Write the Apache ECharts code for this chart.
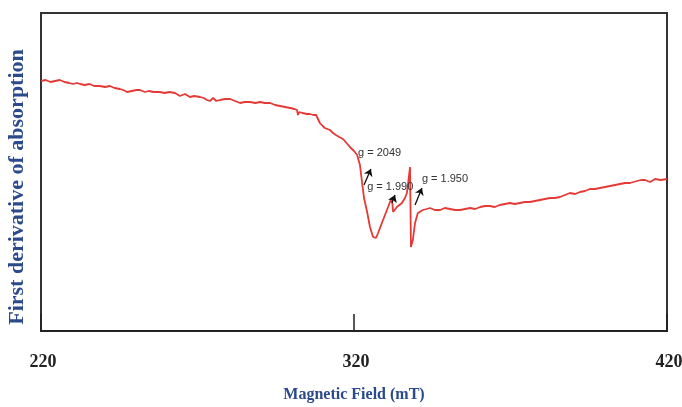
<!DOCTYPE html>
<html>
<head>
<meta charset="utf-8">
<script src="https://cdn.jsdelivr.net/npm/echarts@6/dist/echarts.min.js"></script>
<style>
  html, body { margin: 0; padding: 0; background: #fff; }
  #chart { width: 682px; height: 407px; }
</style>
</head>
<body>
<div id="chart"></div>
<script>
// magnetic field (mT)
var field = [
  220.0, 221.5, 223.0, 224.5, 226.0, 227.5, 229.0, 230.2, 231.5, 232.5,
  234.0, 235.5, 237.0, 238.8, 240.5, 242.0, 243.5, 245.2, 246.3, 247.5,
  249.0, 250.5, 251.6, 253.2, 254.5, 256.0, 258.0, 259.5, 261.0, 262.8,
  264.4, 265.2, 266.0, 267.6, 269.0, 270.8, 272.0, 273.0, 274.0, 275.0,
  276.0, 277.2, 278.8, 280.4, 282.0, 283.6, 285.0, 286.8, 288.5, 290.0,
  291.5, 293.2, 294.8, 296.4, 298.0, 299.6, 301.0, 301.8, 302.1, 302.5,
  303.5, 305.0, 305.9, 307.0, 307.9, 309.1, 310.0, 310.7, 311.5, 312.3,
  313.3, 314.2, 315.3, 316.5, 317.6, 318.7, 320.0, 321.0, 321.9, 322.6,
  323.2, 324.2, 325.1, 326.1, 327.0, 327.7, 328.9, 329.9, 330.9, 331.5,
  332.1, 332.5, 333.7, 335.3, 336.3, 336.9, 337.3, 337.9, 338.2, 338.8,
  339.5, 340.4, 342.0, 343.2, 344.3, 345.8, 347.5, 349.0, 350.7, 352.3,
  353.9, 355.5, 357.1, 358.7, 360.3, 361.8, 363.4, 365.0, 366.6, 368.2,
  369.8, 371.4, 373.0, 374.6, 376.2, 377.8, 379.4, 381.0, 382.6, 384.2,
  385.8, 387.4, 389.0, 390.6, 392.2, 393.8, 395.4, 397.0, 398.6, 400.2,
  401.8, 403.4, 405.0, 406.6, 408.2, 409.3, 410.4, 411.7, 413.0, 414.6,
  416.2, 418.0, 420.0
];
// first derivative signal (arb. units)
var signal = [
  250, 251, 249, 250, 251, 249, 248, 247, 248, 247,
  246, 247, 245, 245, 244, 245, 243, 242, 241, 239,
  240, 241, 241, 239, 240, 239, 239, 238, 239, 238,
  235, 236, 237, 234, 235, 234, 233, 231, 230, 233,
  230, 231, 232, 232, 230, 228, 229, 229, 228, 229,
  228, 228, 226, 225, 224, 223, 222, 221, 216, 219,
  218, 217, 217, 216, 216, 208, 205, 203, 202, 201,
  198, 196, 194, 192, 188, 184, 180, 176, 166, 148,
  133, 119, 104, 94, 93, 98, 108, 116, 124, 129,
  133, 119, 124, 128, 133, 138, 148, 164, 84, 91,
  108, 118, 121, 122, 123, 121, 121, 123, 122, 121,
  121, 122, 123, 122, 124, 125, 125, 124, 126, 127,
  128, 127, 128, 129, 129, 130, 131, 132, 133, 133,
  134, 136, 138, 137, 139, 140, 142, 142, 143, 144,
  145, 146, 147, 148, 148, 149, 150, 151, 151, 149,
  152, 151, 152
];
var xTicks = [220, 320, 420];

// g-value annotations: text, label anchor, arrow start, arrow end
var gLabels = ['g = 2049', 'g = 1.990', 'g = 1.950'];
var gLabelPos = [[321.3, 178], [324.2, 144], [341.7, 152]];
var gArrowFrom = [[323.2, 146], [332.1, 128], [339.5, 126]];
var gArrowTo = [[325.4, 162], [333.1, 136], [341.7, 143]];

var blue = '#2b4a8c';
var chart = echarts.init(document.getElementById('chart'));

var points = field.map(function (f, i) { return [f, signal[i]]; });

var option = {
  animation: false,
  backgroundColor: '#fff',
  grid: {
    left: 41, right: 15, top: 13, bottom: 76,
    outerBoundsMode: 'none',
    show: true, borderColor: '#333', borderWidth: 2
  },
  xAxis: {
    type: 'value',
    min: xTicks[0], max: xTicks[xTicks.length - 1], interval: 100,
    name: 'Magnetic Field (mT)',
    nameLocation: 'middle',
    nameGap: 56,
    nameTextStyle: { fontFamily: 'Liberation Serif', fontWeight: 'bold', fontSize: 16, color: blue },
    axisLine: { lineStyle: { color: '#222', width: 2 } },
    axisTick: { inside: true, length: 17, lineStyle: { color: '#222', width: 1.5 } },
    axisLabel: {
      margin: 22, padding: [0, 0, 0, 4],
      fontFamily: 'Liberation Serif', fontWeight: 'bold', fontSize: 18, color: '#222'
    },
    splitLine: { show: false }
  },
  yAxis: {
    type: 'value',
    min: 0, max: 318,
    name: 'First derivative of absorption',
    nameLocation: 'middle',
    nameGap: 13,
    nameTextStyle: {
      fontFamily: 'Liberation Serif', fontWeight: 'bold', fontSize: 22, color: blue,
      padding: [0, 30, 0, 0]
    },
    axisLine: { show: true, lineStyle: { color: '#333', width: 2 } },
    axisTick: { show: false },
    axisLabel: { show: false },
    splitLine: { show: false }
  },
  series: [{
    type: 'line',
    data: points,
    showSymbol: false,
    lineStyle: { color: '#e53935', width: 1.8 },
    markLine: {
      silent: true,
      symbol: ['none', 'arrow'],
      symbolSize: 7,
      label: { show: false },
      lineStyle: { color: '#111', width: 1.3, type: 'solid' },
      data: gArrowFrom.map(function (p, i) {
        return [{ coord: p }, { coord: gArrowTo[i] }];
      })
    },
    markPoint: {
      silent: true,
      symbol: 'circle',
      symbolSize: 0,
      label: {
        show: true,
        position: 'right',
        distance: 0,
        formatter: '{b}',
        fontFamily: 'Liberation Sans',
        fontSize: 11,
        color: '#333'
      },
      data: gLabels.map(function (t, i) {
        return { name: t, coord: gLabelPos[i] };
      })
    }
  }]
};

chart.setOption(option);
</script>
</body>
</html>
